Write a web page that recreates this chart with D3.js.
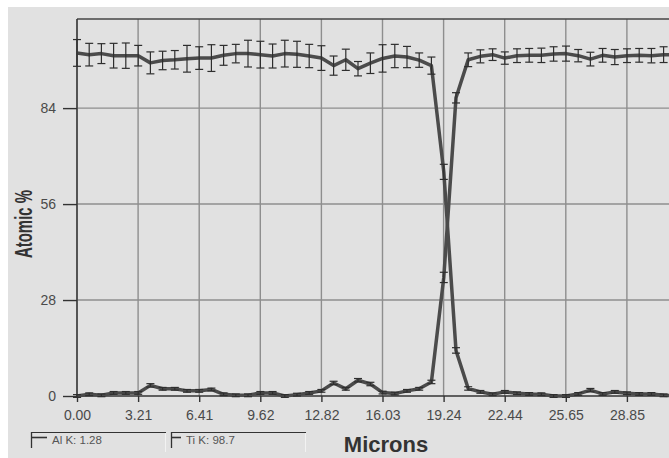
<!DOCTYPE html>
<meta charset="utf-8" />
<script src="https://cdn.jsdelivr.net/npm/d3@7"></script>
<style>
  body { margin: 0; background: #fff; }
  text { font-family: "Liberation Sans", Arial, sans-serif; }
</style>
<svg width="669" height="458"></svg>
<script>
// distance along the line scan (microns)
var microns = [0.00, 0.64, 1.28, 1.92, 2.56, 3.21, 3.85, 4.49, 5.13, 5.77,
  6.41, 7.05, 7.69, 8.33, 8.97, 9.62, 10.26, 10.90, 11.54, 12.18,
  12.82, 13.46, 14.10, 14.74, 15.39, 16.03, 16.67, 17.31, 17.95, 18.59,
  19.24, 19.88, 20.52, 21.16, 21.80, 22.44, 23.08, 23.72, 24.36, 25.00,
  25.65, 26.29, 26.93, 27.57, 28.21, 28.85, 29.49, 30.13, 30.77, 31.41];

// series that starts high
var seriesA = [100.1, 99.6, 99.9, 99.3, 99.3, 99.3, 97.2, 97.9, 98.1, 98.4,
  98.6, 98.6, 99.4, 99.9, 99.9, 99.6, 99.2, 99.9, 99.7, 99.2,
  98.6, 96.4, 98.1, 95.5, 97.1, 98.5, 99.2, 98.9, 98.0, 96.4,
  65.4, 13.3, 2.2, 1.2, 0.5, 1.2, 0.8, 0.6, 0.5, 0.0,
  0.0, 0.6, 1.7, 0.6, 1.2, 0.8, 0.6, 0.6, 0.2, 0.1];
var errA = [3.9, 3.3, 2.9, 3.6, 3.7, 3.0, 3.2, 2.7, 2.7, 3.9,
  3.3, 3.9, 2.9, 2.7, 3.9, 3.9, 3.5, 3.9, 3.8, 3.4,
  3.6, 2.8, 3.1, 2.1, 3.0, 4.0, 3.4, 3.1, 2.1, 2.5,
  2.2, 0.8, 0.5, 0.4, 0.4, 0.4, 0.4, 0.4, 0.4, 0.4,
  0.4, 0.4, 0.5, 0.4, 0.4, 0.4, 0.4, 0.4, 0.4, 0.4];

// series that starts low
var seriesB = [0.0, 0.5, 0.2, 0.9, 0.9, 0.9, 3.1, 2.1, 2.1, 1.5,
  1.5, 1.9, 0.5, 0.2, 0.2, 0.9, 0.9, 0.0, 0.4, 0.9,
  1.5, 3.8, 2.1, 4.6, 3.5, 1.0, 0.7, 1.5, 2.1, 4.1,
  34.6, 87.0, 98.1, 99.1, 99.6, 98.6, 99.3, 99.4, 99.4, 99.8,
  99.9, 99.3, 98.3, 99.4, 98.9, 99.3, 99.4, 99.3, 99.6, 99.5];
var errB = [0.4, 0.4, 0.4, 0.4, 0.4, 0.4, 0.5, 0.4, 0.4, 0.4,
  0.4, 0.4, 0.4, 0.4, 0.4, 0.4, 0.4, 0.4, 0.4, 0.4,
  0.4, 0.5, 0.4, 0.5, 0.5, 0.4, 0.4, 0.4, 0.4, 0.5,
  1.5, 1.5, 2.0, 1.9, 1.7, 1.8, 2.0, 2.0, 2.1, 2.1,
  2.2, 1.8, 2.0, 2.0, 2.2, 2.0, 2.0, 2.1, 2.3, 2.0];

var xTicks = [0, 3.205, 6.41, 9.615, 12.82, 16.025, 19.23, 22.435, 25.64, 28.845];
var xTickLabels = ["0.00", "3.21", "6.41", "9.62", "12.82", "16.03", "19.24", "22.44", "25.65", "28.85"];
var yTicks = [0, 28, 56, 84];
var legendLabels = ["Al K: 1.28", "Ti K: 98.7"];

var svg = d3.select("svg");
var pLeft = 77, pTop = 19, pBottom = 396, pRight = 688;

var x = d3.scaleLinear().domain([0, 32.05]).range([pLeft, pRight]);
var y = d3.scaleLinear().domain([0, 110]).range([pBottom, pTop]);

// background (white strip at top and left like the screenshot)
svg.append("rect").attr("x", 8).attr("y", 7).attr("width", 661).attr("height", 451).style("fill", "#e1e1e1");

// grid
svg.append("g")
  .selectAll("line.vg").data(xTicks).enter().append("line")
  .attr("x1", function (d) { return x(d); }).attr("x2", function (d) { return x(d); })
  .attr("y1", pTop).attr("y2", pBottom)
  .style("stroke", "#8e8e8e").style("stroke-width", 1.4);
svg.append("g")
  .selectAll("line.hg").data(yTicks.slice(1)).enter().append("line")
  .attr("x1", pLeft).attr("x2", 669)
  .attr("y1", function (d) { return y(d); }).attr("y2", function (d) { return y(d); })
  .style("stroke", "#8e8e8e").style("stroke-width", 1.4);

// axes
var xAxis = svg.append("g")
  .attr("transform", "translate(0," + pBottom + ")")
  .call(d3.axisBottom(x).tickValues(xTicks).tickSize(6).tickPadding(8)
    .tickFormat(function (d, i) { return xTickLabels[i]; }));
var yAxis = svg.append("g")
  .attr("transform", "translate(" + pLeft + ",0)")
  .call(d3.axisLeft(y).tickValues(yTicks).tickSize(14).tickPadding(7));
[xAxis, yAxis].forEach(function (a) {
  a.select(".domain").remove();
  a.selectAll("line").style("stroke", "#333").style("stroke-width", 1.4);
  a.selectAll("text").style("font-size", "14px").style("fill", "#4a4a4a")
    .style("font-family", "'Liberation Sans', Arial, sans-serif");
});

// frame lines
svg.append("line").attr("x1", pLeft).attr("x2", 669).attr("y1", pTop).attr("y2", pTop)
  .style("stroke", "#444").style("stroke-width", 1.4);
svg.append("line").attr("x1", pLeft).attr("x2", pLeft).attr("y1", pTop).attr("y2", pBottom)
  .style("stroke", "#333").style("stroke-width", 1.4);
svg.append("line").attr("x1", pLeft).attr("x2", 669).attr("y1", pBottom).attr("y2", pBottom)
  .style("stroke", "#333").style("stroke-width", 1.4);

// series lines + error bars
var line = d3.line()
  .x(function (d) { return x(d.m); })
  .y(function (d) { return y(d.v); });

function drawSeries(vals, errs) {
  var data = microns.map(function (m, i) { return { m: m, v: vals[i], e: errs[i] }; });
  svg.append("path").datum(data)
    .attr("d", line)
    .style("fill", "none").style("stroke", "#4b4b4b").style("stroke-width", 3.5)
    .style("stroke-linejoin", "round");
  var g = svg.append("g").style("stroke", "#2e2e2e").style("stroke-width", 1.2);
  g.selectAll("line.bar").data(data).enter().append("line")
    .attr("x1", function (d) { return x(d.m); }).attr("x2", function (d) { return x(d.m); })
    .attr("y1", function (d) { return y(d.v - d.e); }).attr("y2", function (d) { return y(d.v + d.e); });
  g.selectAll("line.capTop").data(data).enter().append("line")
    .attr("x1", function (d) { return x(d.m) - 4; }).attr("x2", function (d) { return x(d.m) + 4; })
    .attr("y1", function (d) { return y(d.v + d.e); }).attr("y2", function (d) { return y(d.v + d.e); });
  g.selectAll("line.capBot").data(data).enter().append("line")
    .attr("x1", function (d) { return x(d.m) - 4; }).attr("x2", function (d) { return x(d.m) + 4; })
    .attr("y1", function (d) { return y(d.v - d.e); }).attr("y2", function (d) { return y(d.v - d.e); });
}
drawSeries(seriesB, errB);
drawSeries(seriesA, errA);

// axis titles
svg.append("text")
  .attr("transform", "translate(32,224)rotate(-90)")
  .attr("text-anchor", "middle")
  .attr("textLength", 68).attr("lengthAdjust", "spacingAndGlyphs")
  .style("font-size", "24px").style("font-weight", "bold").style("fill", "#333")
  .text("Atomic %");
svg.append("text")
  .attr("x", 386).attr("y", 452)
  .attr("text-anchor", "middle")
  .style("font-size", "22px").style("font-weight", "bold").style("fill", "#333")
  .text("Microns");

// legend boxes
var legX = [31, 171], legMark = [16, 10], legW = 135;
legendLabels.forEach(function (t, i) {
  var x0 = legX[i];
  svg.append("line").attr("x1", x0).attr("x2", x0 + legW).attr("y1", 432.5).attr("y2", 432.5)
    .style("stroke", "#333").style("stroke-width", 1);
  svg.append("line").attr("x1", x0 + 0.5).attr("x2", x0 + 0.5).attr("y1", 432).attr("y2", 448)
    .style("stroke", "#333").style("stroke-width", 1.3);
  svg.append("line").attr("x1", x0 + legW - 0.5).attr("x2", x0 + legW - 0.5).attr("y1", 433).attr("y2", 452)
    .style("stroke", "#f2f2f2").style("stroke-width", 1);
  svg.append("line").attr("x1", x0).attr("x2", x0 + legMark[i]).attr("y1", 437.5).attr("y2", 437.5)
    .style("stroke", "#333").style("stroke-width", 1.6);
  svg.append("text").attr("x", x0 + legMark[i] + 5).attr("y", 443.5)
    .style("font-size", "11.5px").style("fill", "#555")
    .text(t);
});
</script>
